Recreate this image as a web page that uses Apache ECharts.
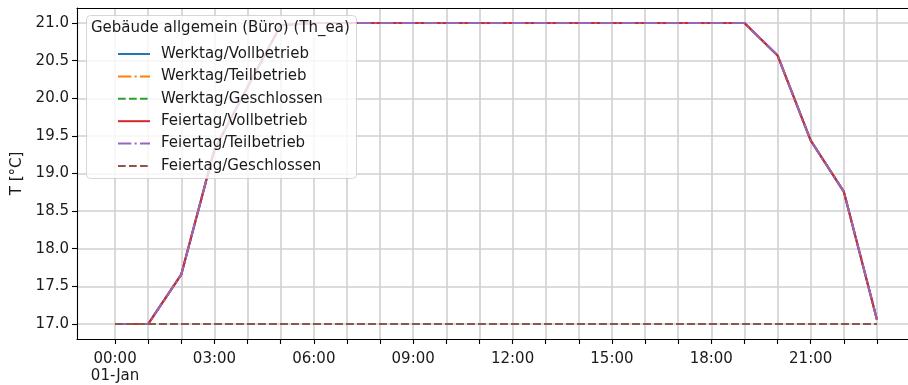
<!DOCTYPE html>
<html>
<head>
<meta charset="utf-8">
<script src="https://cdn.jsdelivr.net/npm/echarts@6/dist/echarts.min.js"></script>
<style>html,body{margin:0;padding:0;background:#fff;overflow:hidden}#c{width:915px;height:385px}</style>
</head>
<body>
<div id="c"></div>
<script>
const hours = [0,1,2,3,4,5,6,7,8,9,10,11,12,13,14,15,16,17,18,19,20,21,22,23];
const xLabelHours = [0,3,6,9,12,15,18,21];
const yTicks = [17.0,17.5,18.0,18.5,19.0,19.5,20.0,20.5,21.0];
const legendTitle = 'Gebäude allgemein (Büro) (Th_ea)';
const seriesNames = ['Werktag/Vollbetrieb','Werktag/Teilbetrieb','Werktag/Geschlossen','Feiertag/Vollbetrieb','Feiertag/Teilbetrieb','Feiertag/Geschlossen'];
const werktagVoll = [17,17,17.66,19.32,20.15,20.97,21,21,21,21,21,21,21,21,21,21,21,21,21,21,20.57,19.44,18.76,17.06];
const werktagTeil = [17,17,17.66,19.32,20.15,20.97,21,21,21,21,21,21,21,21,21,21,21,21,21,21,20.57,19.44,18.76,17.06];
const werktagGeschl = [17,17,17,17,17,17,17,17,17,17,17,17,17,17,17,17,17,17,17,17,17,17,17,17];
const feiertagVoll = [17,17,17.66,19.32,20.15,20.97,21,21,21,21,21,21,21,21,21,21,21,21,21,21,20.57,19.44,18.76,17.06];
const feiertagTeil = [17,17,17.66,19.32,20.15,20.97,21,21,21,21,21,21,21,21,21,21,21,21,21,21,20.57,19.44,18.76,17.06];
const feiertagGeschl = [17,17,17,17,17,17,17,17,17,17,17,17,17,17,17,17,17,17,17,17,17,17,17,17];
const seriesData = [werktagVoll, werktagTeil, werktagGeschl, feiertagVoll, feiertagTeil, feiertagGeschl];

const colors = ['#1f77b4','#ff7f0e','#2ca02c','#d62728','#9467bd','#8c564b'];
const LW = 2.1;
const solid = 'solid';
const dashed = [7.7, 3.3];
const dashdot = [13.3, 3.3, 2.1, 3.3];
const styles = [solid, dashdot, dashed, solid, dashdot, dashed];
const FONT = 'DejaVu Sans';
const FS = 15;
const TXT = '#1a1a1a';

const chart = echarts.init(document.getElementById('c'), null, {renderer:'canvas'});
const pad2 = n => (n < 10 ? '0' : '') + n;

const series = seriesNames.map((name, i) => ({
  name: name,
  type: 'line',
  xAxisIndex: 0,
  data: hours.map((h, j) => [h, seriesData[i][j]]),
  showSymbol: false,
  symbol: 'none',
  lineStyle: { color: colors[i], width: LW, type: styles[i], cap: 'butt' },
  itemStyle: { color: colors[i] },
  animation: false,
  z: 2 + i
}));

chart.setOption({
  animation: false,
  backgroundColor: '#ffffff',
  textStyle: { fontFamily: FONT },
  grid: { left: 77, top: 8, right: 0, bottom: 43, show: false },
  xAxis: [{
    type: 'value',
    min: -1.15, max: 24.15,
    axisLine: { show: true, onZero: false, lineStyle: { color: '#000', width: 1.1 } },
    axisTick: { show: true, length: 5, lineStyle: { color: '#000', width: 1.1 }, customValues: hours },
    axisLabel: {
      customValues: xLabelHours,
      margin: 12,
      color: TXT, fontFamily: FONT, fontSize: FS, lineHeight: 17,
      formatter: v => v === 0 ? '00:00\n01-Jan' : pad2(v) + ':00'
    },
    splitLine: { show: true, lineStyle: { color: '#d0d0d0', width: 1.6 } }
  }, {
    type: 'value', position: 'top',
    min: -1.15, max: 24.15,
    axisLine: { show: true, onZero: false, lineStyle: { color: '#000', width: 1.1 } },
    axisTick: { show: false }, axisLabel: { show: false }, splitLine: { show: false }
  }],
  yAxis: {
    type: 'value',
    min: 16.8, max: 21.2,
    name: 'T [°C]', nameLocation: 'middle', nameRotate: 90, nameGap: 50,
    nameTextStyle: { color: TXT, fontFamily: FONT, fontSize: FS },
    axisLine: { show: true, onZero: false, lineStyle: { color: '#000', width: 1.1 } },
    axisTick: { show: true, length: 5, lineStyle: { color: '#000', width: 1.1 }, customValues: yTicks },
    axisLabel: { customValues: yTicks, margin: 8, color: TXT, fontFamily: FONT, fontSize: FS, formatter: v => v.toFixed(1) },
    splitLine: { show: true, lineStyle: { color: '#d0d0d0', width: 1.6 } }
  },
  legend: {
    data: seriesNames,
    orient: 'vertical',
    left: 117, top: 46.5,
    padding: 0,
    itemWidth: 32, itemHeight: 14, itemGap: 7.4,
    z: 60,
    itemStyle: { opacity: 0 },
    textStyle: { color: TXT, fontFamily: FONT, fontSize: FS, padding: [0,0,0,6] },
    selectedMode: false
  },
  graphic: [
    { type: 'rect', left: 86, top: 15, z: 50, silent: true,
      shape: { width: 270, height: 163, r: 4 },
      style: { fill: 'rgba(255,255,255,0.8)', stroke: 'rgba(204,204,204,0.8)', lineWidth: 1 } },
    { type: 'text', left: 91, top: 21, z: 60, silent: true,
      style: { text: legendTitle, fill: TXT, font: FS + 'px "' + FONT + '"' } }
  ],
  series: series
});
</script>
</body>
</html>
